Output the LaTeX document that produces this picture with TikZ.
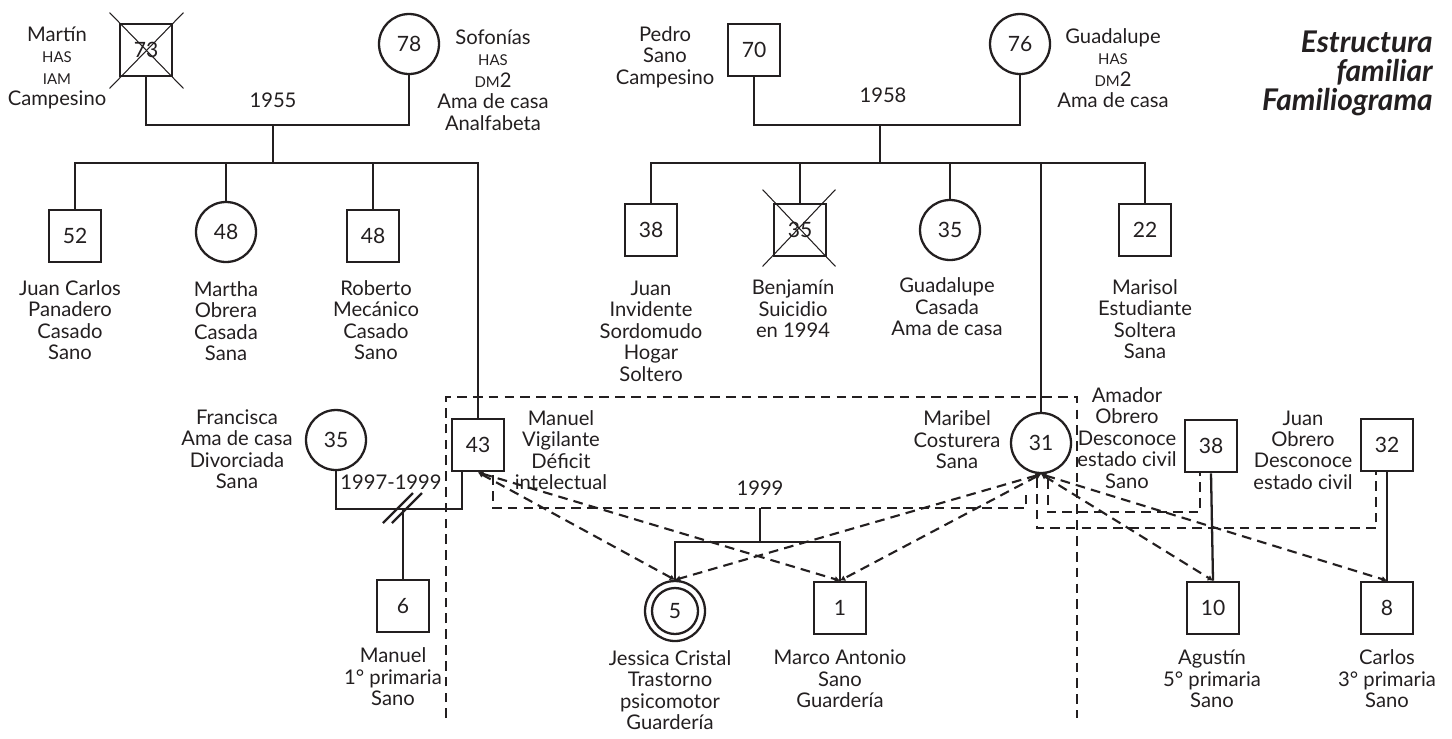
\documentclass[tikz,border=0pt]{standalone}
\usepackage{fontspec}
\setmainfont{Lato}
\usetikzlibrary{calc,arrows.meta}
\definecolor{tinta}{RGB}{35,31,32}
\newcommand{\Pcap}[1]{{\fontsize{8.5}{12.2}\selectfont #1}}

\begin{document}
\begin{tikzpicture}[x=0.02cm,y=-0.02cm,line cap=butt,line join=miter,
  every node/.style={text=tinta},
  cuadro/.style={draw=tinta,line width=1.3pt,minimum size=1.05cm,inner sep=0pt,font=\fontsize{12}{12}\selectfont},
  circulo/.style={cuadro,circle,minimum size=1.2cm},
  datos/.style={align=center,inner sep=0pt,font=\fontsize{11.5}{12.2}\selectfont},
  fecha/.style={inner sep=0pt,font=\fontsize{11.5}{12.2}\selectfont},
  titulo/.style={align=right,inner sep=0pt,font=\fontsize{17}{16.5}\selectfont\bfseries\itshape},
  lazo/.style={draw=tinta,line width=1.3pt},
  union/.style={draw=tinta,line width=1.2pt,dash pattern=on 5.5pt off 3.5pt},
  filiacion/.style={union,{Latex[length=3pt,width=3.5pt]}-{Latex[length=3pt,width=3.5pt]}},
  cruz/.style={draw=tinta,line width=0.6pt}]
  \useasboundingbox (0,0) rectangle (1452,738);

  % primera generacion
  \node[cuadro] (martin) at (146,50) {73};
  \node[circulo] (sofonias) at (409,44) {78};
  \node[cuadro] (pedro) at (754,50) {70};
  \node[circulo] (guadalupem) at (1020,44) {76};
  \draw[cruz] ($(martin.north west)+(-9,-10)$) -- ($(martin.south east)+(10,11)$);
  \draw[cruz] ($(martin.north east)+(10,-10)$) -- ($(martin.south west)+(-9,11)$);

  \node[datos] (martint) at (57,68) {Martín\\\Pcap{HAS}\\\Pcap{IAM}\\Campesino};
  \node[datos] (sofoniast) at (493,80) {Sofonías\\\Pcap{HAS}\\\Pcap{DM}2\\Ama de casa\\Analfabeta};
  \node[datos] (pedrot) at (665,57) {Pedro\\Sano\\Campesino};
  \node[datos] (guadalupemt) at (1113,68) {Guadalupe\\\Pcap{HAS}\\\Pcap{DM}2\\Ama de casa};
  \node[titulo,anchor=east] (titulo) at (1433,73) {Estructura\\familiar\\Familiograma};

  % segunda generacion
  \node[cuadro] (juancarlos) at (75,236) {52};
  \node[circulo] (martha) at (226,232) {48};
  \node[cuadro] (roberto) at (373,236) {48};
  \node[cuadro] (juan) at (651,230) {38};
  \node[cuadro] (benjamin) at (800,230) {35};
  \node[circulo] (guadalupe) at (950,230) {35};
  \node[cuadro] (marisol) at (1145,230) {22};
  \draw[cruz] ($(benjamin.north west)+(-10,-13)$) -- ($(benjamin.south east)+(8,9)$);
  \draw[cruz] ($(benjamin.north east)+(8,-13)$) -- ($(benjamin.south west)+(-10,9)$);

  \node[datos] (juancarlost) at (70,320) {Juan Carlos\\Panadero\\Casado\\Sano};
  \node[datos] (marthat) at (226,321) {Martha\\Obrera\\Casada\\Sana};
  \node[datos] (robertot) at (376,320) {Roberto\\Mecánico\\Casado\\Sano};
  \node[datos] (juant) at (651,331) {Juan\\Invidente\\Sordomudo\\Hogar\\Soltero};
  \node[datos] (benjamint) at (793,309) {Benjamín\\Suicidio\\en 1994};
  \node[datos] (guadalupet) at (947,307) {Guadalupe\\Casada\\Ama de casa};
  \node[datos] (marisolt) at (1145,319) {Marisol\\Estudiante\\Soltera\\Sana};

  % uniones de 1955 y 1958
  \coordinate (u55) at (273,125);
  \coordinate (h55) at (273,163);
  \node[fecha] (n55) at (273,100) {1955};
  \node[cuadro] (manuel) at (478,445) {43};
  \draw[lazo] (martin.south) |- (u55) -| (sofonias.south);
  \draw[lazo] (u55) -- (h55);
  \draw[lazo] (juancarlos.north) |- (h55) -| (manuel.north);
  \draw[lazo] (martha.north) -- (martha.north |- h55);
  \draw[lazo] (roberto.north) -- (roberto.north |- h55);

  \coordinate (u58) at (880,125);
  \coordinate (h58) at (880,163);
  \node[fecha] (n58) at (883,95) {1958};
  \node[circulo] (maribel) at (1041,443) {31};
  \draw[lazo] (pedro.south) |- (u58) -| (guadalupem.south);
  \draw[lazo] (u58) -- (h58);
  \draw[lazo] (juan.north) |- (h58) -| (marisol.north);
  \draw[lazo] (benjamin.north) -- (benjamin.north |- h58);
  \draw[lazo] (guadalupe.north) -- (guadalupe.north |- h58);
  \draw[lazo] (maribel.north) -- (maribel.north |- h58);

  % parejas
  \node[circulo] (francisca) at (336,440) {35};
  \node[cuadro] (amador) at (1211,446) {38};
  \node[cuadro] (juanp) at (1387,445) {32};
  \node[datos] (franciscat) at (237,449) {Francisca\\Ama de casa\\Divorciada\\Sana};
  \node[datos] (manuelt) at (561,450) {Manuel\\Vigilante\\Déficit\\intelectual};
  \node[datos] (maribelt) at (957,440) {Maribel\\Costurera\\Sana};
  \node[datos] (amadort) at (1127,438) {Amador\\Obrero\\Desconoce\\estado civil\\Sano};
  \node[datos] (juanpt) at (1303,450) {Juan\\Obrero\\Desconoce\\estado civil};

  % tercera generacion
  \node[cuadro] (manueljr) at (403,606) {6};
  \node[circulo] (jessica) at (675,611) {5};
  \draw[lazo] (jessica.center) circle[radius=0.46cm];
  \node[cuadro] (marco) at (840,608) {1};
  \node[cuadro] (agustin) at (1213,608) {10};
  \node[cuadro] (carlos) at (1387,608) {8};
  \node[datos] (manueljrt) at (393,677) {Manuel\\1° primaria\\Sano};
  \node[datos] (jessicat) at (670,690) {Jessica Cristal\\Trastorno\\psicomotor\\Guardería};
  \node[datos] (marcot) at (840,679) {Marco Antonio\\Sano\\Guardería};
  \node[datos] (agustint) at (1212,679) {Agustín\\5° primaria\\Sano};
  \node[datos] (carlost) at (1387,679) {Carlos\\3° primaria\\Sano};

  % divorcio 1997-1999
  \coordinate (div) at (403,509);
  \node[fecha] (n97) at (391,482) {1997-1999};
  \draw[lazo] (francisca.south) |- (div) -| ($(manuel.south)+(-16,0)$);
  \draw[lazo] ($(div)+(-20,14)$) -- ($(div)+(10,-16)$);
  \draw[lazo] ($(div)+(-11,14)$) -- ($(div)+(19,-16)$);
  \draw[lazo] (div) -- (manueljr.north);

  % union libre 1999 y sus hijos
  \coordinate (u99) at (760,508);
  \coordinate (h99) at (760,542);
  \node[fecha] (n99) at (760,488) {1999};
  \draw[union] ($(manuel.south)+(15,3)$) |- (u99) -| ($(maribel.south)+(-15,15)$);
  \draw[lazo] (u99) -- (h99);
  \draw[lazo] (jessica.north) |- (h99) -| (marco.north);

  % parejas de Maribel
  \draw[union] ($(maribel.south)+(7,5)$) |- ($(amador.south)+(-11,39)$) -- ($(amador.south)+(-11,0)$);
  \draw[union] ($(maribel.south)+(-4,4)$) |- ($(juanp.south)+(-11,56)$) -- ($(juanp.south)+(-11,0)$);
  \draw[lazo] (amador.south) -- (agustin.north);
  \draw[lazo] (juanp.south) -- (carlos.north);

  % filiacion
  \draw[filiacion] (manuel.south) -- (jessica.north);
  \draw[filiacion] (manuel.south) -- (marco.north);
  \draw[filiacion] (maribel.south) -- (jessica.north);
  \draw[filiacion] (maribel.south) -- (marco.north);
  \draw[filiacion] (maribel.south) -- (agustin.north);
  \draw[filiacion] (maribel.south) -- (carlos.north);

  % hogar actual
  \draw[union] (446,718) -- (446,397) -- (1077,397) -- (1077,718);
\end{tikzpicture}
\end{document}
